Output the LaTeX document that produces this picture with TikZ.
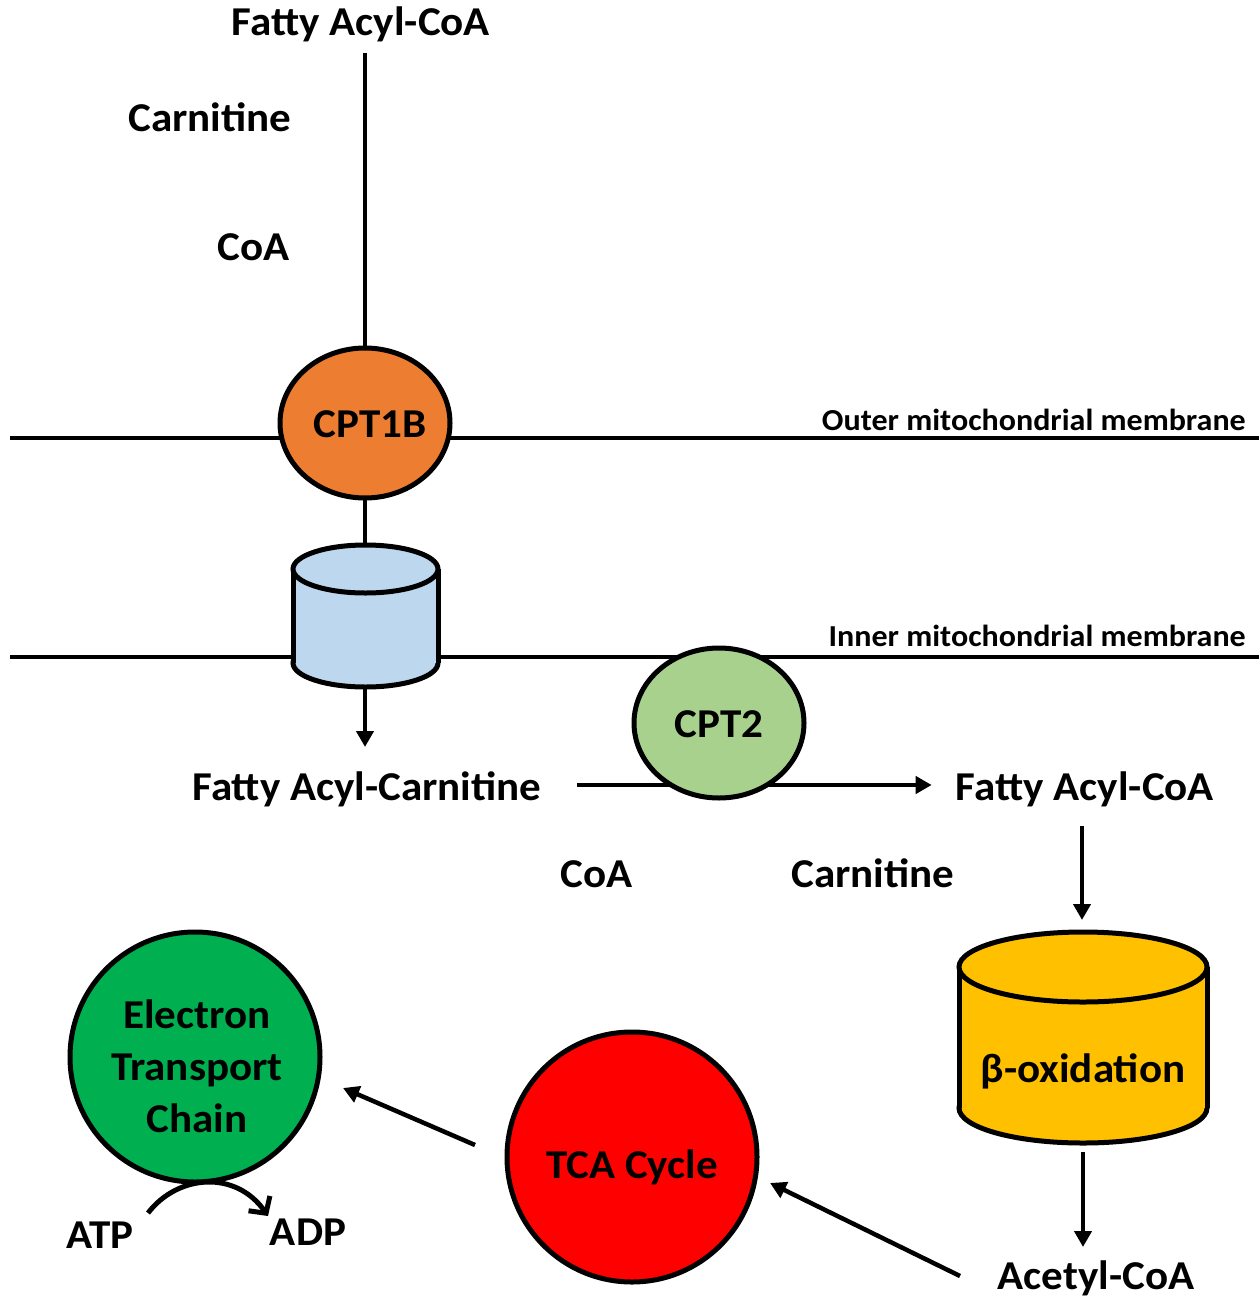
\documentclass[tikz,border=0pt]{standalone}
\usepackage{fontspec}
\setmainfont{Carlito}[FakeStretch=1.05]
\usetikzlibrary{arrows.meta,shapes.geometric}
\definecolor{cOrange}{HTML}{ED7D31}
\definecolor{cBlue}{HTML}{BDD7EE}
\definecolor{cLGreen}{HTML}{A9D18E}
\definecolor{cYellow}{HTML}{FFC000}
\definecolor{cRed}{HTML}{FF0000}
\definecolor{cGreen}{HTML}{00B050}
\begin{document}
\begin{tikzpicture}[x=1pt,y=-1pt,line width=4.5pt,
  lbl/.style={font=\fontsize{41}{52}\selectfont\bfseries,inner sep=0pt,anchor=base},
  memlbl/.style={font=\fontsize{30.5}{34}\selectfont\bfseries,inner sep=0pt,anchor=base east},
  enzyme/.style={ellipse,draw,line width=5pt,inner sep=0pt,minimum width=170pt,minimum height=150pt},
  bigcirc/.style={circle,draw,line width=5pt,inner sep=0pt,minimum size=250pt},
  cyl/.style={line width=5pt},
  arr/.style={-{Triangle[length=16pt,width=17pt]}},
  membrane/.style={line width=4.5pt}]
\useasboundingbox (0,0) rectangle (1259,1298);

% membranes
\draw[membrane] (10,438) -- (1259,438);
\draw[membrane] (10,657) -- (1259,657);
\node[memlbl] (outer) at (1248,430) {Outer mitochondrial membrane};
\node[memlbl] (inner) at (1248,646) {Inner mitochondrial membrane};

% top labels
\node[lbl] (fa1) at (361,36) {Fatty Acyl-CoA};
\node[lbl] (carn1) at (210,131) {Carnitine};
\node[lbl] (coa1) at (254,260) {CoA};

% CPT1B
\node[enzyme,draw=none] (cpt1b) at (365,423) {};
\coordinate (cyl1top) at (365,546);
\draw[shorten <=8pt] (cpt1b.north |- fa1.south) -- (cpt1b.center);
\draw (cpt1b.center) -- (cyl1top);
\node[enzyme,fill=cOrange] at (cpt1b.center) {};
\node[lbl] (cpt1bt) at (370,437) {CPT1B};

% blue cylinder
\draw[cyl,fill=cBlue] (365.5,663) ellipse[x radius=72.5,y radius=24];
\fill[cBlue] (293,569) rectangle (438,663);
\draw[cyl] (293,569) -- (293,663);
\draw[cyl] (438,569) -- (438,663);
\draw[cyl,fill=cBlue] (365.5,569) ellipse[x radius=72.5,y radius=24];
\coordinate (cyl1bot) at (365,687);

% Fatty acyl-carnitine
\node[lbl] (fac) at (367,800) {Fatty Acyl-Carnitine};
\draw[arr] (cyl1bot) -- (cyl1bot |- 0,747);

% CPT2 and arrow
\node[lbl] (fa2) at (1085,800) {Fatty Acyl-CoA};
\draw[arr,shorten <=33pt,shorten >=22pt] (fac.east |- 0,785) -- (fa2.west |- 0,785);
\node[enzyme,fill=cLGreen] (cpt2) at (719,723) {};
\node[lbl] (cpt2t) at (719,737) {CPT2};
\node[lbl] (coa2) at (597,887) {CoA};
\node[lbl] (carn2) at (873,887) {Carnitine};

% beta oxidation cylinder
\coordinate (b1) at (1082,826);
\coordinate (b2) at (1082,920);
\draw[arr] (b1) -- (b2);
\draw[cyl,fill=cYellow] (1083,1108) ellipse[x radius=124,y radius=35];
\fill[cYellow] (959,967) rectangle (1207,1108);
\draw[cyl] (959,967) -- (959,1108);
\draw[cyl] (1207,967) -- (1207,1108);
\draw[cyl,fill=cYellow] (1083,967) ellipse[x radius=124,y radius=35];
\node[lbl] (beta) at (1083,1082) {β-oxidation};
\coordinate (b3) at (1083,1152);
\node[lbl] (acetyl) at (1096,1289) {Acetyl-CoA};
\draw[arr] (b3) -- (b3 |- 0,1247);

% TCA
\node[bigcirc,fill=cRed] (tca) at (632,1157) {};
\node[lbl] (tcat) at (632,1178) {TCA Cycle};
\coordinate (t1) at (960,1276);
\draw[arr] (t1) -- (770,1183);

% ETC
\node[bigcirc,fill=cGreen] (etc) at (195,1057) {};
\node[lbl,align=center,anchor=north] (etct) at (197,997) {Electron\\Transport\\Chain};
\coordinate (e1) at (475,1145);
\draw[arr] (e1) -- (343,1088);

% ATP / ADP
\node[lbl] (atp) at (100,1248) {ATP};
\node[lbl] (adp) at (308,1245) {ADP};
\draw[-{Straight Barb[length=12pt,width=26pt]},line width=5pt] (148,1213) .. controls (178,1174) and (236,1170) .. (268,1216);
\end{tikzpicture}
\end{document}
